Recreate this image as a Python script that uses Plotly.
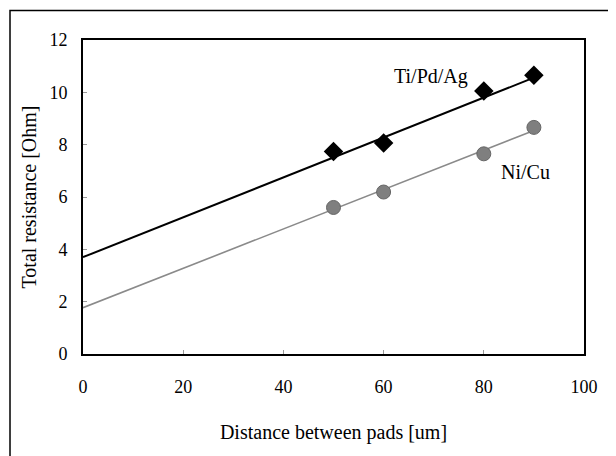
import plotly.graph_objects as go

# Data
distance = [50, 60, 80, 90]
ti_pd_ag = [7.74, 8.06, 10.05, 10.65]
ni_cu = [5.60, 6.19, 7.65, 8.66]

fit_x = [0, 90]
ti_fit = [3.70, 10.56]
ni_fit = [1.77, 8.54]

x_ticks = [0, 20, 40, 60, 80, 100]
y_ticks = [0, 2, 4, 6, 8, 10, 12]

FONT = "Liberation Serif, Times New Roman, serif"

fig = go.Figure()
fig.add_trace(go.Scatter(x=fit_x, y=ti_fit, mode="lines",
                         line=dict(color="black", width=2), showlegend=False))
fig.add_trace(go.Scatter(x=fit_x, y=ni_fit, mode="lines",
                         line=dict(color="#8a8a8a", width=1.6), showlegend=False))
fig.add_trace(go.Scatter(x=distance, y=ti_pd_ag, mode="markers",
                         marker=dict(symbol="diamond", size=15, color="black"),
                         showlegend=False))
fig.add_trace(go.Scatter(x=distance, y=ni_cu, mode="markers",
                         marker=dict(symbol="circle", size=14, color="#7f7f7f",
                                     line=dict(color="#666666", width=1)),
                         showlegend=False))

fig.add_annotation(x=69.5, y=10.6, text="Ti/Pd/Ag", showarrow=False,
                   font=dict(family=FONT, size=20, color="black"))
fig.add_annotation(x=88.3, y=6.95, text="Ni/Cu", showarrow=False,
                   font=dict(family=FONT, size=20, color="black"))

# outer frame of the figure
fig.add_shape(type="rect", xref="paper", yref="paper",
              x0=-0.1457, x1=1.0539, y0=-0.40, y1=1.0938,
              line=dict(color="black", width=1.5), fillcolor="rgba(0,0,0,0)",
              layer="below")

fig.update_layout(
    width=608, height=448,
    margin=dict(l=75, r=32, t=32, b=102, autoexpand=False),
    paper_bgcolor="white", plot_bgcolor="white",
    font=dict(family=FONT, size=18, color="black"),
    xaxis=dict(range=[0, 100], tickvals=x_ticks, showgrid=False, zeroline=False,
               showline=True, linecolor="black", linewidth=2, mirror=True,
               ticks="inside", ticklen=4, tickcolor="#999999", tickwidth=1,
               ticklabelstandoff=15, automargin=False,
               tickfont=dict(family=FONT, size=18),
               title=dict(text="Distance between pads [um]",
                          font=dict(family=FONT, size=20), standoff=29)),
    yaxis=dict(range=[0, 12], tickvals=y_ticks, showgrid=False, zeroline=False,
               showline=True, linecolor="black", linewidth=2, mirror=True,
               ticks="inside", ticklen=4, tickcolor="#999999", tickwidth=1,
               ticklabelstandoff=10, automargin=False,
               tickfont=dict(family=FONT, size=18),
               title=dict(text="Total resistance [Ohm]",
                          font=dict(family=FONT, size=20), standoff=7)),
)

fig.write_html("out.html")
